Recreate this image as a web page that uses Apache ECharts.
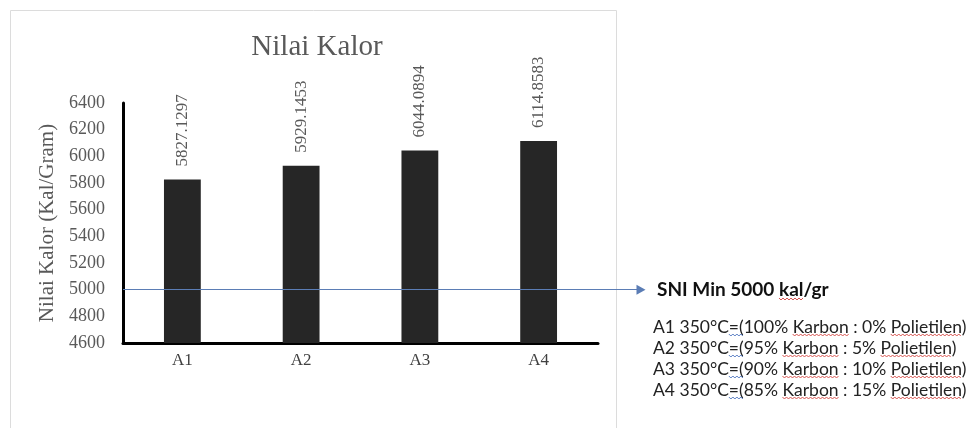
<!DOCTYPE html>
<html>
<head>
<meta charset="utf-8">
<script src="https://cdn.jsdelivr.net/npm/echarts@6/dist/echarts.min.js"></script>
<style>
  html, body { margin: 0; padding: 0; background: #fff; }
  #chart { width: 970px; height: 428px; }
</style>
</head>
<body>
<div id="chart"></div>
<script>
// Calorific value per sample
const categories = ['A1', 'A2', 'A3', 'A4'];
const kalorValues = [5827.1297, 5929.1453, 6044.0894, 6114.8583];
const sniMinimum = 5000;
const yTicks = { min: 4600, max: 6400, interval: 200 };
const noteTitle = 'SNI Min 5000 kal/gr';
const noteLines = [
  'A1 350°C=(100% Karbon : 0% Polietilen)',
  'A2 350°C=(95% Karbon : 5% Polietilen)',
  'A3 350°C=(90% Karbon : 10% Polietilen)',
  'A4 350°C=(85% Karbon : 15% Polietilen)'
];
// words flagged by the spell checker in the note text
const flaggedWords = ['kal', 'Karbon', 'Polietilen'];

const serif = '"Liberation Serif", "Times New Roman", serif';
const sans = 'Lato, "Open Sans", sans-serif';
const gray = '#595959';

const chart = echarts.init(document.getElementById('chart'));

// measure text so the wavy underlines sit under the right words
const measureCtx = document.createElement('canvas').getContext('2d');
function textWidth(str, font) {
  measureCtx.font = font;
  return measureCtx.measureText(str).width;
}
function wavy(x0, x1, y, color) {
  const pts = [];
  let up = true;
  for (let x = x0; x <= x1; x += 2) {
    pts.push([x, up ? y - 1 : y + 1]);
    up = !up;
  }
  return {
    type: 'polyline', silent: true,
    shape: { points: pts },
    style: { stroke: color, lineWidth: 1, fill: 'none' }
  };
}
function underlines(text, font, left, baseY) {
  const out = [];
  flaggedWords.forEach(w => {
    const i = text.indexOf(w);
    if (i < 0) return;
    const x0 = left + textWidth(text.slice(0, i), font);
    const x1 = x0 + textWidth(w, font);
    out.push(wavy(x0, x1, baseY, '#d9534f'));
  });
  const eq = text.indexOf('=(');
  if (eq >= 0) {
    const x0 = left + textWidth(text.slice(0, eq), font);
    const x1 = x0 + textWidth('=(', font);
    out.push(wavy(x0, x1, baseY, '#5b7fc4'));
  }
  return out;
}

const titleFont = 'bold 19px ' + sans;
const lineFont = '17.5px ' + sans;
const noteLeft = 653;
let notes = [{
  type: 'text', left: noteLeft + 4, top: 280,
  style: { text: noteTitle, font: titleFont, fill: '#111' }
}].concat(underlines(noteTitle, titleFont, noteLeft + 4, 299));
noteLines.forEach((t, i) => {
  const top = 318 + i * 21;
  notes.push({
    type: 'text', left: noteLeft, top: top,
    style: { text: t, font: lineFont, fill: '#222' }
  });
  notes = notes.concat(underlines(t, lineFont, noteLeft, top + 17));
});

chart.setOption({
  animation: false,
  backgroundColor: '#fff',
  title: {
    text: 'Nilai Kalor',
    left: 312, top: 28, textAlign: 'center',
    textStyle: { fontFamily: serif, fontSize: 29, fontWeight: 'normal', color: gray }
  },
  grid: { left: 123, right: 372, top: 103, bottom: 85 },
  xAxis: {
    type: 'category',
    data: categories,
    axisLine: { lineStyle: { color: '#000', width: 3 } },
    axisTick: { show: false },
    axisLabel: { fontFamily: serif, fontSize: 17, color: '#404040', margin: 9 }
  },
  yAxis: {
    type: 'value',
    min: yTicks.min, max: yTicks.max, interval: yTicks.interval,
    name: 'Nilai Kalor (Kal/Gram)',
    nameLocation: 'middle',
    nameGap: 65,
    nameTextStyle: { fontFamily: serif, fontSize: 21, color: gray },
    axisLine: { show: true, lineStyle: { color: '#000', width: 3 } },
    axisTick: { show: false },
    splitLine: { show: false },
    axisLabel: {
      fontFamily: serif, fontSize: 18, color: gray, margin: 18,
      formatter: v => String(v)
    }
  },
  series: [{
    type: 'bar',
    data: kalorValues,
    barWidth: '31%',
    itemStyle: { color: '#262626' },
    label: {
      show: true,
      position: 'top',
      rotate: 90,
      align: 'left',
      verticalAlign: 'middle',
      distance: 13,
      fontFamily: serif,
      fontSize: 17,
      color: gray,
      formatter: p => p.value.toFixed(4)
    },
    markLine: {
      silent: true,
      symbol: ['none', 'triangle'],
      symbolSize: [10, 9],
      label: { show: false },
      lineStyle: { color: '#5b7db5', width: 1, type: 'solid' },
      data: [[
        { coord: [categories[0], sniMinimum], x: 123 },
        { coord: [categories[categories.length - 1], sniMinimum], x: 641 }
      ]]
    }
  }],
  graphic: [{
    type: 'rect',
    shape: { x: 10.5, y: 10.5, width: 606, height: 430 },
    style: { fill: 'none', stroke: '#dcdcdc', lineWidth: 1 },
    z: -10
  }].concat(notes)
});
</script>
</body>
</html>
